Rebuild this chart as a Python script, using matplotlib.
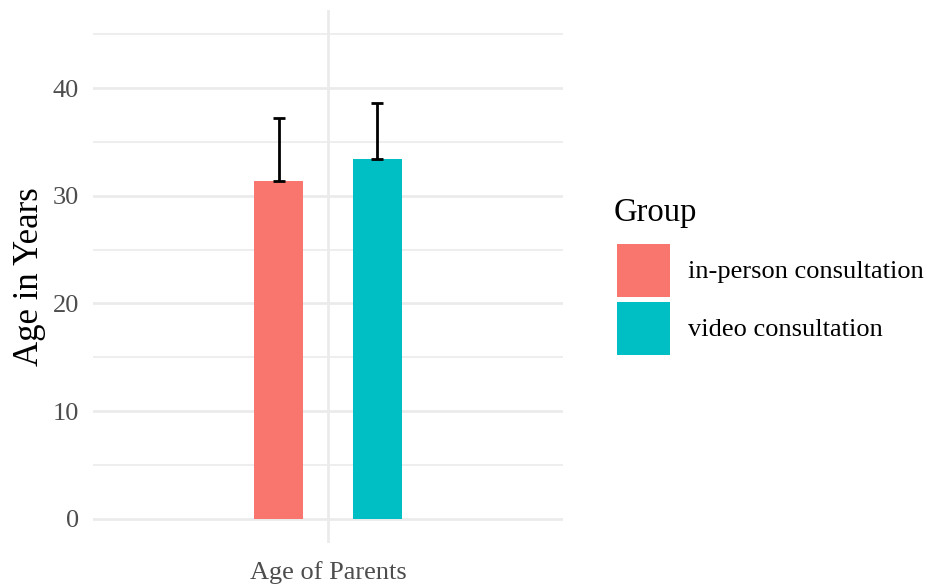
import numpy as np
import matplotlib
matplotlib.use('Agg')
import matplotlib.pyplot as plt
from matplotlib.patches import Patch
from matplotlib.ticker import MultipleLocator

plt.rcParams['font.family'] = ['Liberation Serif', 'DejaVu Serif']

CATEGORY = 'Age of Parents'
GROUPS = ['in-person consultation', 'video consultation']
MEANS = [31.4, 33.4]
SDS = [5.8, 5.2]
COLORS = ['#F8766D', '#00BFC4']

GRID = '#EBEBEB'
TICK_GREY = '#4D4D4D'

DODGE = 0.126
BAR_W = 0.125


def draw_bars(ax):
    offsets = np.array([-DODGE, DODGE])
    x = 1 + offsets
    ax.bar(x, MEANS, width=BAR_W, color=COLORS, zorder=2)
    # upper whisker only, with a cap at the bar top and at mean + sd
    ax.errorbar(x, MEANS, yerr=[np.zeros(len(SDS)), SDS], fmt='none',
                ecolor='black', elinewidth=2, capsize=4.5, capthick=2, zorder=3)


fig = plt.figure(figsize=(9.3, 5.86), dpi=100)
ax = fig.add_axes([93 / 930, 43 / 586, 470 / 930, 533 / 586])

draw_bars(ax)

ax.set_xlim(0.4, 1.6)
ax.set_ylim(-2.25, 47.25)
ax.set_xticks([1])
ax.set_xticklabels([CATEGORY])
ax.yaxis.set_major_locator(MultipleLocator(10))
ax.yaxis.set_minor_locator(MultipleLocator(5))

ax.grid(True, which='major', axis='both', color=GRID, linewidth=2.0, zorder=0)
ax.grid(True, which='minor', axis='y', color=GRID, linewidth=1.2, zorder=0)
ax.set_axisbelow(True)
for s in ax.spines.values():
    s.set_visible(False)
ax.tick_params(axis='both', which='both', length=0, labelsize=19,
               labelcolor=TICK_GREY)
ax.tick_params(axis='y', pad=10)
ax.tick_params(axis='x', pad=13)
ax.set_ylabel('Age in Years', fontsize=25, color='black', labelpad=5)

# legend title drawn on its own so the gap above the keys can be set
fig.text(614 / 930, 1 - 213 / 586, 'Group', fontsize=23.5, ha='left',
         va='center')
handles = [Patch(facecolor=c, edgecolor='none') for c in COLORS]
fig.legend(handles, GROUPS, loc='upper left',
           bbox_to_anchor=(617 / 930, 1 - 244 / 586), frameon=False,
           fontsize=19, handlelength=2.0, handleheight=2.7, labelspacing=0.2,
           handletextpad=0.7, borderpad=0, borderaxespad=0)

fig.savefig('out.png', dpi=100)
